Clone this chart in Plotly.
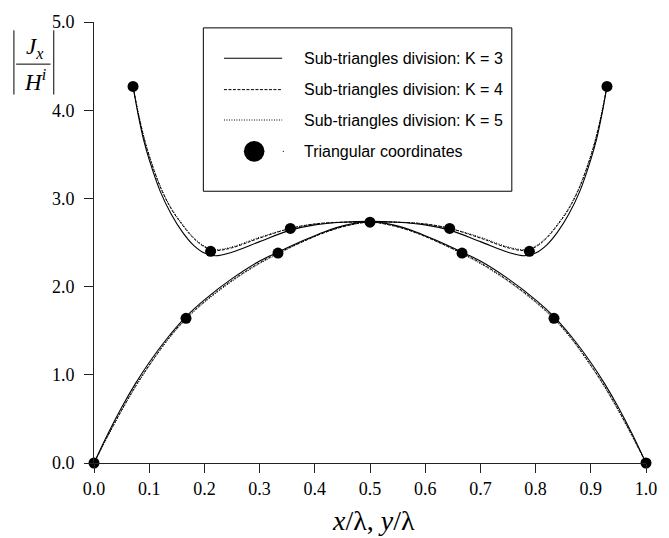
import plotly.graph_objects as go

# ---------------- data ----------------
# upper branch (x values, then y for each K)
up_x = [0.0707, 0.08, 0.09, 0.10, 0.12, 0.14, 0.16, 0.18, 0.20, 0.22, 0.25, 0.30, 0.3557, 0.40, 0.45, 0.50,
        0.55, 0.60, 0.6443, 0.70, 0.75, 0.78, 0.80, 0.82, 0.84, 0.86, 0.88, 0.90, 0.91, 0.92, 0.9293]
up_k3 = [4.27, 3.95, 3.66, 3.44, 3.08, 2.82, 2.62, 2.47, 2.38, 2.35, 2.39, 2.51, 2.64, 2.70, 2.73, 2.74,
         2.73, 2.70, 2.64, 2.51, 2.39, 2.35, 2.38, 2.47, 2.62, 2.82, 3.08, 3.44, 3.66, 3.95, 4.27]
up_k4 = [4.27, 3.97, 3.70, 3.48, 3.13, 2.88, 2.70, 2.55, 2.45, 2.41, 2.44, 2.55, 2.66, 2.71, 2.73, 2.73,
         2.73, 2.71, 2.66, 2.55, 2.44, 2.41, 2.45, 2.55, 2.70, 2.88, 3.13, 3.48, 3.70, 3.97, 4.27]
up_k5 = [4.27, 3.98, 3.71, 3.49, 3.14, 2.89, 2.71, 2.56, 2.46, 2.42, 2.45, 2.56, 2.66, 2.71, 2.73, 2.73,
         2.73, 2.71, 2.66, 2.56, 2.45, 2.42, 2.46, 2.56, 2.71, 2.89, 3.14, 3.49, 3.71, 3.98, 4.27]

# lower branch
lo_x = [0.0, 0.025, 0.05, 0.075, 0.10, 0.1333, 0.1667, 0.20, 0.25, 0.30, 0.3333, 0.375, 0.4167, 0.4583, 0.50,
        0.5417, 0.5833, 0.625, 0.6667, 0.70, 0.75, 0.80, 0.8333, 0.8667, 0.90, 0.925, 0.95, 0.975, 1.0]
lo_k3 = [0.0, 0.33, 0.63, 0.90, 1.14, 1.42, 1.66, 1.85, 2.09, 2.29, 2.39, 2.51, 2.62, 2.70, 2.74,
         2.70, 2.62, 2.51, 2.39, 2.29, 2.09, 1.85, 1.66, 1.42, 1.14, 0.90, 0.63, 0.33, 0.0]
lo_k4 = [0.0, 0.31, 0.60, 0.87, 1.11, 1.40, 1.64, 1.83, 2.07, 2.27, 2.38, 2.50, 2.61, 2.69, 2.73,
         2.69, 2.61, 2.50, 2.38, 2.27, 2.07, 1.83, 1.64, 1.40, 1.11, 0.87, 0.60, 0.31, 0.0]
lo_k5 = [0.0, 0.30, 0.59, 0.86, 1.10, 1.39, 1.63, 1.82, 2.06, 2.26, 2.37, 2.50, 2.61, 2.69, 2.73,
         2.69, 2.61, 2.50, 2.37, 2.26, 2.06, 1.82, 1.63, 1.39, 1.10, 0.86, 0.59, 0.30, 0.0]

# triangular coordinates (markers)
tri_x = [0.0, 0.1667, 0.3333, 0.5, 0.6667, 0.8333, 1.0, 0.0707, 0.2113, 0.3557, 0.6443, 0.7887, 0.9293]
tri_y = [0.0, 1.64, 2.38, 2.73, 2.38, 1.64, 0.0, 4.27, 2.40, 2.66, 2.66, 2.40, 4.27]

legend_labels = ["Sub-triangles division: K = 3", "Sub-triangles division: K = 4",
                 "Sub-triangles division: K = 5", "Triangular coordinates"]
x_ticks = [0.0, 0.1, 0.2, 0.3, 0.4, 0.5, 0.6, 0.7, 0.8, 0.9, 1.0]
y_ticks = [0.0, 1.0, 2.0, 3.0, 4.0, 5.0]

# ---------------- geometry helpers (pixel -> paper) ----------------
W, H = 669, 538
L, R, T, B = 94.3, 12.3, 13, 75
PW, PH = W - L - R, H - T - B


def px(x):
    return (x - L) / PW


def py(y):
    return (H - B - y) / PH


fig = go.Figure()
styles = [("solid", 1.1, up_k3, lo_k3), ("3px,1.5px", 1, up_k4, lo_k4), ("1px,1.5px", 1, up_k5, lo_k5)]
for dash, wd, uy, ly in styles:
    fig.add_trace(go.Scatter(x=up_x, y=uy, mode="lines", line=dict(color="black", width=wd, dash=dash, shape="spline"),
                             showlegend=False, cliponaxis=False))
    fig.add_trace(go.Scatter(x=lo_x, y=ly, mode="lines", line=dict(color="black", width=wd, dash=dash, shape="spline"),
                             showlegend=False, cliponaxis=False))

fig.add_trace(go.Scatter(x=tri_x, y=tri_y, mode="markers", marker=dict(color="black", size=11),
                         showlegend=False, cliponaxis=False))

shapes = []
annotations = []

# ---------- manual legend ----------
shapes.append(dict(type="rect", xref="paper", yref="paper", x0=px(205.7), x1=px(520),
                   y0=py(185.7), y1=py(19), line=dict(color="black", width=1), fillcolor="white", layer="above"))
rows = [50, 82, 113, 145]
for i, (dash, wd, _, _) in enumerate(styles):
    shapes.append(dict(type="line", xref="paper", yref="paper", x0=px(226.7), x1=px(286), y0=py(rows[i]), y1=py(rows[i]),
                       line=dict(color="black", width=wd, dash=dash), layer="above"))
# legend marker
shapes.append(dict(type="circle", xref="paper", yref="paper", x0=px(247), x1=px(268), y0=py(rows[3] + 10.5),
                   y1=py(rows[3] - 10.5), fillcolor="black", line=dict(color="black", width=0), layer="above"))
shapes.append(dict(type="circle", xref="paper", yref="paper", x0=px(286.6), x1=px(287.8), y0=py(rows[3] + 0.6),
                   y1=py(rows[3] - 0.6), fillcolor="black", line=dict(color="black", width=0), layer="above"))
for i, lab in enumerate(legend_labels):
    annotations.append(dict(text=lab, xref="paper", yref="paper", x=px(306), y=py(rows[i]), xanchor="left",
                            yanchor="middle", showarrow=False,
                            font=dict(family="Liberation Sans, Arial", size=16, color="black")))

# ---------- y-axis title |J_x / H^i| ----------
serif = "Liberation Serif, Times New Roman"
annotations.append(dict(text="<i>J</i><sub><i>x</i></sub>", xref="paper", yref="paper", x=px(34), y=py(40),
                        xanchor="center", yanchor="middle", showarrow=False, font=dict(family=serif, size=23, color="black")))
annotations.append(dict(text="<i>H</i><sup><i>i</i></sup>", xref="paper", yref="paper", x=px(34), y=py(73),
                        xanchor="center", yanchor="middle", showarrow=False, font=dict(family=serif, size=23, color="black")))
shapes.append(dict(type="line", xref="paper", yref="paper", x0=px(15), x1=px(50), y0=py(56), y1=py(56),
                   line=dict(color="black", width=1)))
for xb in (12.7, 53.3):
    shapes.append(dict(type="line", xref="paper", yref="paper", x0=px(xb), x1=px(xb), y0=py(21.5), y1=py(87),
                       line=dict(color="black", width=1)))

# ---------- x-axis title ----------
annotations.append(dict(text="<i>x</i>/λ, <i>y</i>/λ", xref="paper", yref="paper", x=px(379), y=py(522),
                        xanchor="center", yanchor="middle", showarrow=False, font=dict(family=serif, size=28, color="black")))

axis_common = dict(showgrid=False, zeroline=False, showline=True, linecolor="#222", linewidth=1,
                   ticks="outside", ticklen=9, tickcolor="#222", tickwidth=1,
                   tickfont=dict(family=serif, size=18, color="black"), tickformat=".1f")

fig.update_layout(
    width=W, height=H,
    margin=dict(l=L, r=R, t=T, b=B, pad=0),
    paper_bgcolor="white", plot_bgcolor="white",
    xaxis=dict(range=[0, 1], tickvals=x_ticks, **axis_common),
    yaxis=dict(range=[0, 5], tickvals=y_ticks, ticklabelstandoff=6, **axis_common),
    shapes=shapes, annotations=annotations, showlegend=False,
)

fig.write_html("out.html")
